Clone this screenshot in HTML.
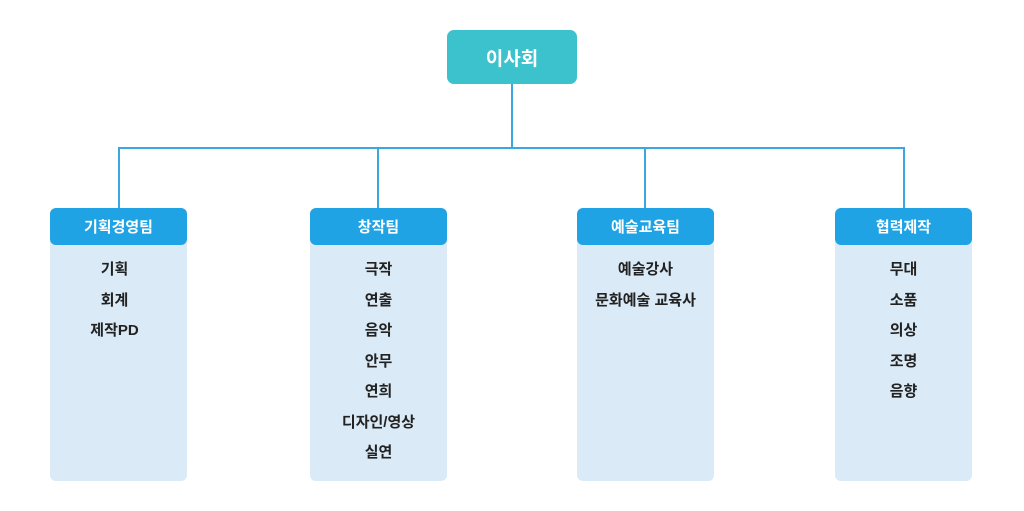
<!DOCTYPE html>
<html><head><meta charset="utf-8"><style>
body{margin:0;width:1024px;height:511px;background:#fff;position:relative;overflow:hidden;font-family:"Liberation Sans","Noto Sans CJK KR",sans-serif}
.l{position:absolute;background:#3aa7e0}
.top{position:absolute;left:447px;top:30px;width:130px;height:54px;background:#3cc2cc;border-radius:7px;color:#fff;font-weight:bold;font-size:19px;display:flex;align-items:center;justify-content:center}
.col{position:absolute;top:208px;width:137px;height:273px;background:#daeaf6;border-radius:6px}
.h{height:37px;background:#20a3e4;border-radius:6px;color:#fff;font-weight:bold;font-size:15px;display:flex;align-items:center;justify-content:center}
.it{text-align:center;font-weight:bold;font-size:15px;color:#222;line-height:30.5px;padding-top:40px;margin-top:-30px}
</style></head><body>
<div class="top">이사회</div>
<div class="l" style="left:511px;top:84px;width:2px;height:65px"></div>
<div class="l" style="left:118px;top:147px;width:787px;height:2px"></div>
<div class="l" style="left:118px;top:147px;width:2px;height:62px"></div>
<div class="l" style="left:377px;top:147px;width:2px;height:62px"></div>
<div class="l" style="left:644px;top:147px;width:2px;height:62px"></div>
<div class="l" style="left:903px;top:147px;width:2px;height:62px"></div>
<div class="col" style="left:50px"><div class="h">기획경영팀</div><div class="it" style="padding-right:8px">기획<br>회계<br>제작PD</div></div>
<div class="col" style="left:310px"><div class="h">창작팀</div><div class="it">극작<br>연출<br>음악<br>안무<br>연희<br>디자인/영상<br>실연</div></div>
<div class="col" style="left:577px"><div class="h">예술교육팀</div><div class="it">예술강사<br>문화예술 교육사</div></div>
<div class="col" style="left:835px"><div class="h">협력제작</div><div class="it">무대<br>소품<br>의상<br>조명<br>음향</div></div>
</body></html>
